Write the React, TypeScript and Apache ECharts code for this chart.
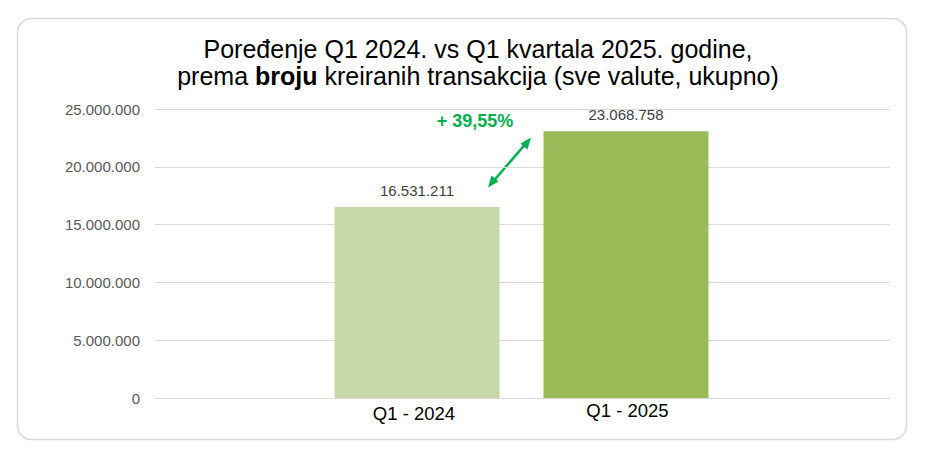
import React, { useEffect, useRef } from "react";
import * as echarts from "echarts";

const categories = ["Q1 - 2024", "Q1 - 2025"];
const values = [16531211, 23068758];
const barColors = ["#c6d7aa", "#9bbb59"];
const yTicks = [0, 5000000, 10000000, 15000000, 20000000, 25000000];

const fmt = (v: number) => String(Math.round(v)).replace(/\B(?=(\d{3})+(?!\d))/g, ".");

export default function App() {
  const ref = useRef<HTMLDivElement>(null);
  useEffect(() => {
    document.body.style.margin = "0";
    const chart = echarts.init(ref.current!, null, { renderer: "svg" });
    const growth = ((values[1] / values[0] - 1) * 100).toFixed(2).replace(".", ",");
    const yMax = yTicks[yTicks.length - 1];
    const interval = yTicks[1] - yTicks[0];
    const font = "Liberation Sans, Arial, sans-serif";
    chart.setOption({
      animation: false,
      backgroundColor: "#ffffff",
      title: {
        left: 473,
        top: 30,
        textAlign: "center",
        text: "Poređenje Q1 2024. vs Q1 kvartala 2025. godine,\n{n|prema }{b|broju}{n| kreiranih transakcija (sve valute, ukupno)}",
        textStyle: {
          fontFamily: font,
          fontSize: 25,
          color: "#000000",
          fontWeight: "normal",
          lineHeight: 27,
          rich: {
            n: { fontFamily: font, fontSize: 25, color: "#000000", lineHeight: 27 },
            b: { fontFamily: font, fontSize: 25, color: "#000000", fontWeight: "bold", lineHeight: 27 },
          },
        },
      },
      grid: [
        { left: 155, right: 46, top: 109, bottom: 62 },
        { left: 312.5, right: 205.5, top: 109, bottom: 62 },
      ],
      xAxis: [
        {
          gridIndex: 0,
          type: "category",
          data: [""],
          axisLine: { show: true, lineStyle: { color: "#d9d9d9", width: 1 } },
          axisTick: { show: false },
          axisLabel: { show: false },
        },
        {
          gridIndex: 1,
          type: "category",
          data: categories.map((c, i) => ({
            value: c,
            textStyle: { padding: i === 0 ? [3, 6, 0, 0] : [0, 0, 0, 3] },
          })),
          axisLine: { show: false },
          axisTick: { show: false },
          axisLabel: { fontFamily: font, fontSize: 18.5, color: "#000000", margin: 3 },
        },
      ],
      yAxis: [
        {
          gridIndex: 0,
          type: "value",
          min: 0,
          max: yMax,
          interval,
          axisLine: { show: false },
          axisTick: { show: false },
          splitLine: { lineStyle: { color: "#d9d9d9", width: 1 } },
          axisLabel: { fontFamily: font, fontSize: 15, color: "#595959", margin: 15, formatter: (v: number) => fmt(v) },
        },
        {
          gridIndex: 1,
          type: "value",
          min: 0,
          max: yMax,
          interval,
          show: false,
        },
      ],
      series: [
        {
          type: "bar",
          xAxisIndex: 1,
          yAxisIndex: 1,
          barWidth: 165,
          data: values.map((v, i) => ({ value: v, itemStyle: { color: barColors[i] } })),
          label: {
            show: true,
            position: "top",
            distance: 9,
            fontFamily: font,
            fontSize: 15,
            color: "#404040",
            formatter: (p: any) => fmt(p.value),
          },
        },
      ],
      graphic: [
        {
          type: "rect",
          shape: { x: 17.5, y: 18.5, width: 889, height: 421, r: 14 },
          style: { fill: "none", stroke: "#d9d9d9", lineWidth: 1.5 },
          silent: true,
        },
        {
          type: "text",
          x: 475,
          y: 121,
          style: {
            text: "+ " + growth + "%",
            fontFamily: font,
            fontSize: 18,
            fontWeight: "bold",
            fill: "#00b050",
            align: "center",
            verticalAlign: "middle",
          },
        },
        {
          type: "line",
          shape: { x1: 491, y1: 184, x2: 528, y2: 141 },
          style: { stroke: "#00b050", lineWidth: 2.5 },
        },
        {
          type: "polygon",
          shape: { points: [[531, 137.5], [520.5, 143.5], [527.5, 149.5]] },
          style: { fill: "#00b050" },
        },
        {
          type: "polygon",
          shape: { points: [[488, 187.5], [498.5, 181.5], [491.5, 175.5]] },
          style: { fill: "#00b050" },
        },
      ],
    });
    return () => chart.dispose();
  }, []);
  return <div ref={ref} style={{ position: "absolute", left: 0, top: 0, width: 936, height: 460 }} />;
}
